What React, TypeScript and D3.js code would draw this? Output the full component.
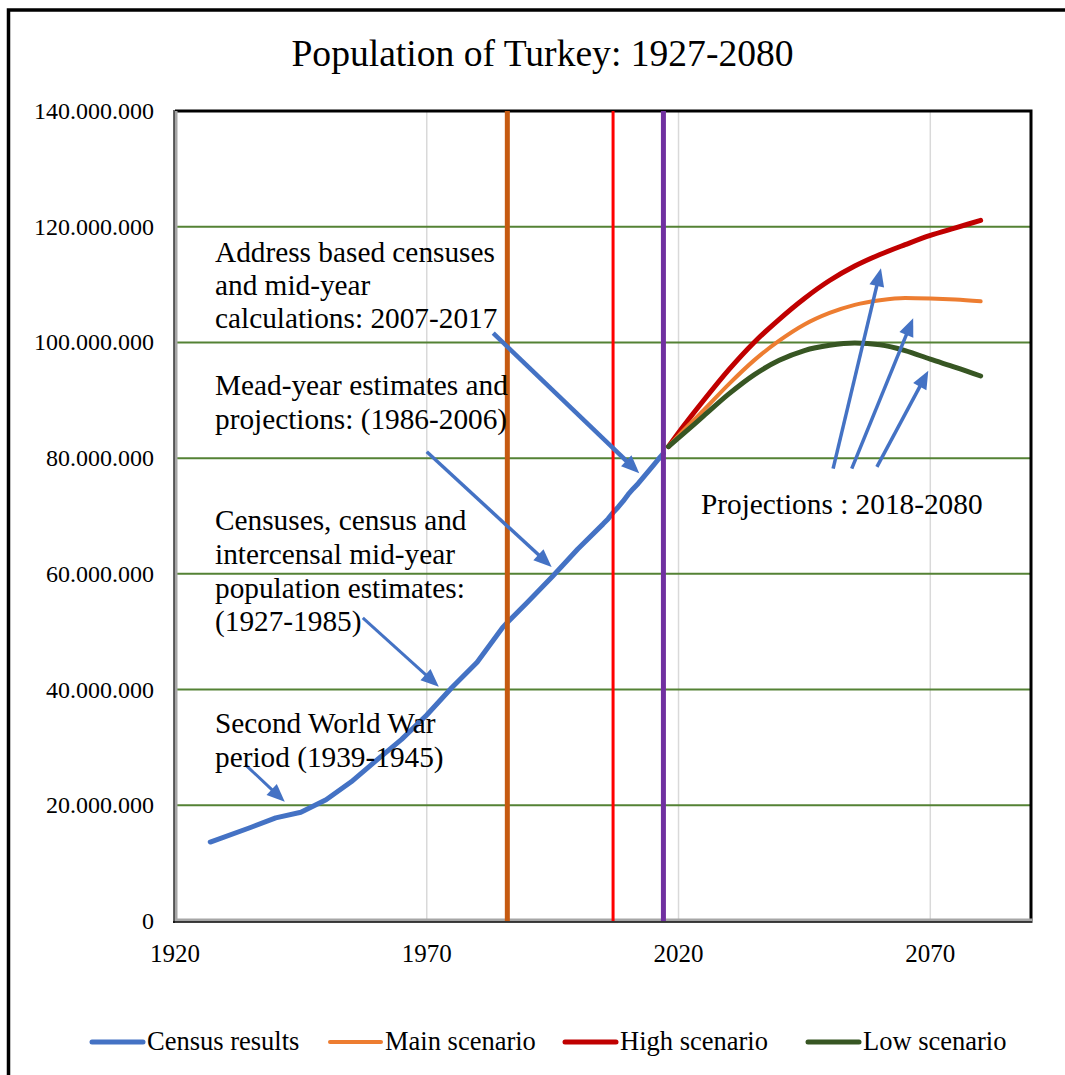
import React from "react";
import * as d3 from "d3";

// Population in millions
const censusYears = [
  1927, 1935, 1940, 1945, 1950, 1955, 1960, 1965, 1970, 1975, 1980, 1985,
  1986, 1990, 1995, 2000, 2005, 2006,
  2007, 2008, 2009, 2010, 2011, 2012, 2013, 2014, 2015, 2016, 2017,
];
const censusPop = [
  13.65, 16.16, 17.82, 18.79, 20.95, 24.06, 27.75, 31.39, 35.61, 40.35, 44.74, 50.66,
  51.6, 55.1, 59.6, 64.3, 68.6, 69.5,
  70.59, 71.52, 72.56, 73.72, 74.72, 75.63, 76.67, 77.7, 78.74, 79.81, 80.81,
];

const projYears = [2018, 2020, 2025, 2030, 2035, 2040, 2045, 2050, 2055, 2060, 2065, 2070, 2075, 2080];
const mainScenario = [82.0, 83.9, 88.3, 92.8, 96.9, 100.3, 103.1, 105.1, 106.5, 107.3, 107.7, 107.6, 107.4, 107.1];
const highScenario = [82.0, 84.4, 90.0, 95.3, 100.0, 104.0, 107.6, 110.7, 113.2, 115.2, 116.9, 118.5, 119.8, 121.1];
const lowScenario = [82.0, 83.5, 87.3, 91.1, 94.4, 96.9, 98.6, 99.5, 99.9, 99.6, 98.6, 97.1, 95.7, 94.2];

const xTicks = [1920, 1970, 2020, 2070];
const yTicks = [0, 20, 40, 60, 80, 100, 120, 140];
const periodBreaks = [1986, 2007, 2017];

const legendLabels = ["Census results", "Main scenario", "High scenario", "Low scenario"];

// Annotation arrows: [year, population] start and tip
const arrowStart: [number, number][] = [
  [1983.2, 101.6],
  [1970.0, 81.1],
  [1957.3, 52.4],
  [1934.0, 27.0],
  [2050.7, 78.2],
  [2054.4, 78.2],
  [2059.4, 78.5],
];
const arrowTip: [number, number][] = [
  [2012.2, 77.4],
  [1994.8, 61.2],
  [1972.4, 40.5],
  [1941.8, 20.6],
  [2060.2, 112.8],
  [2066.6, 104.2],
  [2069.6, 95.1],
];
const arrowWidths = [4.5, 3.5, 3, 3, 3.5, 3.5, 3.5];

const FONT = "'Liberation Serif', 'Times New Roman', serif";
const BLUE = "#4472c4";
const seriesColors = [BLUE, "#ed7d31", "#c00000", "#375623"];
const seriesWidths = [5, 4, 5, 5];
const breakColors = ["#c55a11", "#ff0000", "#7030a0"];
const breakWidths = [5, 3, 5];

const legendLayout = [90, 328, 563, 806];

const W = 1065;
const H = 1075;
const L = 175;
const R = 1031;
const T = 111;
const B = 921;

export default function App() {
  const x = d3.scaleLinear().domain([1920, 2090]).range([L, R]);
  const y = d3.scaleLinear().domain([0, 140]).range([B, T]);

  const censusLine = d3
    .line<number>()
    .x((_, i) => x(censusYears[i]))
    .y((d) => y(d))
    .curve(d3.curveLinear);

  const projLine = d3
    .line<number>()
    .x((_, i) => x(projYears[i]))
    .y((d) => y(d))
    .curve(d3.curveMonotoneX);

  const fmt = (v: number) => d3.format(",")(v * 1e6).replace(/,/g, ".");

  const arrows = arrowStart.map((s, i) => {
    const t = arrowTip[i];
    const x1 = x(s[0]);
    const y1 = y(s[1]);
    const x2 = x(t[0]);
    const y2 = y(t[1]);
    const dx = x2 - x1;
    const dy = y2 - y1;
    const len = Math.hypot(dx, dy);
    const ux = dx / len;
    const uy = dy / len;
    const hl = 18;
    const hw = 7.5;
    const bx = x2 - ux * hl;
    const by = y2 - uy * hl;
    const head = [
      [x2, y2],
      [bx - uy * hw, by + ux * hw],
      [bx + uy * hw, by - ux * hw],
    ]
      .map((p) => p.join(","))
      .join(" ");
    return { x1, y1, bx: bx + ux * 2, by: by + uy * 2, head, w: arrowWidths[i] };
  });

  const textStyle = { fontFamily: FONT, fontSize: 29.3, fill: "#000" } as const;

  return (
    <svg
      width={W}
      height={H}
      style={{ position: "absolute", left: 0, top: 0, background: "#fff" }}
    >
      <rect x={0} y={0} width={W} height={H} fill="#fff" />
      {/* outer chart frame */}
      <path d={`M8.5,${H + 5} V10 H${W + 5}`} fill="none" stroke="#000" strokeWidth={3.5} />

      <text x={542.5} y={66} textAnchor="middle" style={{ fontFamily: FONT, fontSize: 37.6 }}>
        Population of Turkey: 1927-2080
      </text>

      {/* vertical gridlines */}
      {xTicks.slice(1).map((t) => (
        <line key={t} x1={x(t)} x2={x(t)} y1={T} y2={B} stroke="#d9d9d9" strokeWidth={1.5} />
      ))}
      {/* horizontal gridlines */}
      {yTicks.slice(1, -1).map((t) => (
        <line key={t} x1={L} x2={R} y1={y(t)} y2={y(t)} stroke="#548235" strokeWidth={2} />
      ))}

      {/* plot border */}
      <path d={`M${L},${T} H${R} V${B}`} fill="none" stroke="#000" strokeWidth={3} />
      <line x1={L + 1} x2={L + 1} y1={T} y2={B} stroke="#a6a6a6" strokeWidth={3} />
      <line x1={L - 1} x2={L - 1} y1={T - 1} y2={B + 2} stroke="#000" strokeWidth={1.2} />
      <line x1={L} x2={R + 1.5} y1={B - 1} y2={B - 1} stroke="#a6a6a6" strokeWidth={3} />
      <line x1={L - 2} x2={R + 1.5} y1={B + 1} y2={B + 1} stroke="#000" strokeWidth={1.5} />

      {/* y axis labels */}
      {yTicks.map((t) => (
        <text
          key={t}
          x={154}
          y={y(t) + 8}
          textAnchor="end"
          style={{ fontFamily: FONT, fontSize: 24 }}
        >
          {t === 0 ? "0" : fmt(t)}
        </text>
      ))}
      {/* x axis labels */}
      {xTicks.map((t) => (
        <text
          key={t}
          x={x(t)}
          y={962}
          textAnchor="middle"
          style={{ fontFamily: FONT, fontSize: 25 }}
        >
          {t}
        </text>
      ))}

      {/* census series */}
      <path
        d={censusLine(censusPop) ?? ""}
        fill="none"
        stroke={seriesColors[0]}
        strokeWidth={seriesWidths[0]}
        strokeLinejoin="round"
        strokeLinecap="round"
      />

      {/* period breaks */}
      {periodBreaks.map((yr, i) => (
        <line
          key={yr}
          x1={x(yr)}
          x2={x(yr)}
          y1={T}
          y2={B}
          stroke={breakColors[i]}
          strokeWidth={breakWidths[i]}
        />
      ))}

      {/* projection scenarios */}
      {[highScenario, mainScenario, lowScenario].map((s, k) => {
        const idx = [2, 1, 3][k];
        return (
          <path
            key={idx}
            d={projLine(s) ?? ""}
            fill="none"
            stroke={seriesColors[idx]}
            strokeWidth={seriesWidths[idx]}
            strokeLinecap="round"
            strokeLinejoin="round"
          />
        );
      })}

      {/* annotation arrows */}
      {arrows.map((a, i) => (
        <g key={i}>
          <line x1={a.x1} y1={a.y1} x2={a.bx} y2={a.by} stroke={BLUE} strokeWidth={a.w} />
          <polygon points={a.head} fill={BLUE} />
        </g>
      ))}

      {/* annotation texts */}
      <text style={textStyle}>
        <tspan x={215} y={262}>Address based censuses</tspan>
        <tspan x={215} y={295}>and mid-year</tspan>
        <tspan x={215} y={328}>calculations: 2007-2017</tspan>
      </text>
      <text style={textStyle}>
        <tspan x={215} y={395}>Mead-year estimates and</tspan>
        <tspan x={215} y={429}>projections: (1986-2006)</tspan>
      </text>
      <text style={textStyle}>
        <tspan x={215} y={530}>Censuses, census and</tspan>
        <tspan x={215} y={564}>intercensal mid-year</tspan>
        <tspan x={215} y={598}>population estimates:</tspan>
        <tspan x={215} y={631}>(1927-1985)</tspan>
      </text>
      <text style={textStyle}>
        <tspan x={215} y={733}>Second World War</tspan>
        <tspan x={215} y={767}>period (1939-1945)</tspan>
      </text>
      <text x={701} y={514} style={textStyle}>
        Projections : 2018-2080
      </text>

      {/* legend */}
      {legendLabels.map((lab, i) => (
        <g key={lab}>
          <line
            x1={legendLayout[i] + 2}
            x2={legendLayout[i] + 53}
            y1={1042}
            y2={1042}
            stroke={seriesColors[i]}
            strokeWidth={seriesWidths[i]}
            strokeLinecap="round"
          />
          <text x={legendLayout[i] + 57} y={1050} style={{ fontFamily: FONT, fontSize: 26.5 }}>
            {lab}
          </text>
        </g>
      ))}
    </svg>
  );
}
